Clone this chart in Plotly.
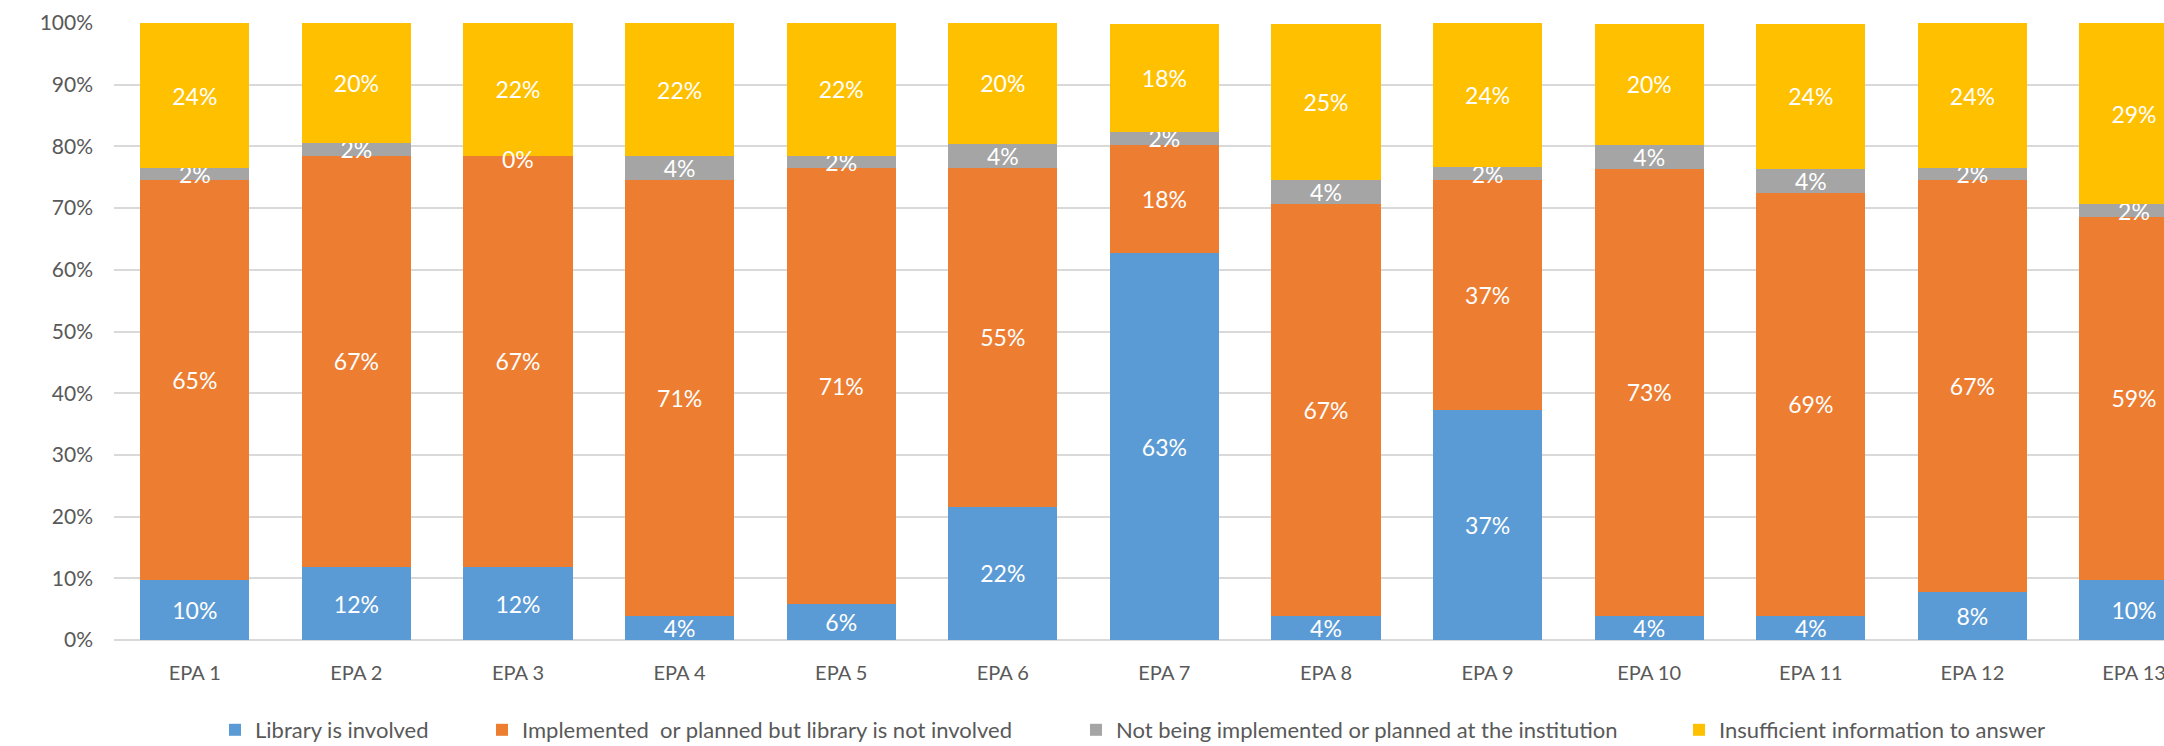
import plotly.graph_objects as go

categories = ["EPA 1", "EPA 2", "EPA 3", "EPA 4", "EPA 5", "EPA 6", "EPA 7",
              "EPA 8", "EPA 9", "EPA 10", "EPA 11", "EPA 12", "EPA 13"]

library_involved = [9.8, 11.8, 11.8, 3.9, 5.9, 21.6, 62.7, 3.9, 37.3, 3.9, 3.9, 7.8, 9.8]
implemented_not_involved = [64.7, 66.7, 66.7, 70.6, 70.6, 54.9, 17.6, 66.7, 37.3, 72.5, 68.6, 66.7, 58.8]
not_implemented = [2.0, 2.0, 0.0, 3.9, 2.0, 3.9, 2.0, 3.9, 2.0, 3.9, 3.9, 2.0, 2.0]
insufficient_info = [23.5, 19.6, 21.6, 21.6, 21.6, 19.6, 17.6, 25.4, 23.5, 19.6, 23.5, 23.5, 29.4]

series = [
    ("Library is involved", library_involved, "#5B9BD5", "legend"),
    ("Implemented  or planned but library is not involved", implemented_not_involved, "#ED7D31", "legend2"),
    ("Not being implemented or planned at the institution", not_implemented, "#A5A5A5", "legend3"),
    ("Insufficient information to answer", insufficient_info, "#FFC000", "legend4"),
]

FONT = "Lato"
LABEL_SIZE = 23
W, H = 2164, 746
ML, MR, MT, MB = 114, 0, 23, 106
plot_w = W - ML - MR
plot_h = H - MT - MB

fig = go.Figure()
for name, vals, color, lg in series:
    fig.add_trace(go.Bar(
        x=categories, y=vals, name=name,
        marker=dict(color=color, line=dict(width=0)),
        texttemplate="%{y:.0f}%", textposition="inside",
        insidetextanchor="middle", textangle=0,
        textfont=dict(family=FONT, size=LABEL_SIZE, color="white"),
        legend=lg, showlegend=True,
    ))

# labels for zero-height segments (plotly does not draw text on empty bars)
base = [0.0] * len(categories)
for name, vals, color, lg in series:
    for i, v in enumerate(vals):
        if v == 0:
            fig.add_annotation(
                x=categories[i], y=base[i], text="%.0f%%" % v, showarrow=False,
                font=dict(family=FONT, size=LABEL_SIZE, color="white"),
                xanchor="center", yanchor="middle", yshift=-3,
            )
        base[i] += v

# legend marker left edges (px)
legend_px = [231, 498, 1092, 1695]
legend_text_w = [200, 540, 560, 380]
legend_y = (H - MB - 730) / plot_h


def leg(px, tw):
    return dict(
        x=(px - ML - 16) / plot_w, y=legend_y, xanchor="left", yanchor="middle",
        orientation="h", bgcolor="rgba(0,0,0,0)",
        entrywidth=tw, entrywidthmode="pixels",
        font=dict(family=FONT, size=22, color="#595959"),
    )

# category spacing: 161.6 px per category
cat_w = 161.6
x_end = plot_w / cat_w - 0.5

fig.update_layout(
    width=W, height=H,
    margin=dict(l=ML, r=MR, t=MT, b=MB, pad=0, autoexpand=False),
    barmode="stack", bargap=0.325,
    plot_bgcolor="white", paper_bgcolor="white",
    font=dict(family=FONT, size=20, color="#595959"),
    uniformtext=dict(minsize=LABEL_SIZE, mode="show"),
    showlegend=True,
    legend=leg(legend_px[0], legend_text_w[0]),
    legend2=leg(legend_px[1], legend_text_w[1]),
    legend3=leg(legend_px[2], legend_text_w[2]),
    legend4=leg(legend_px[3], legend_text_w[3]),
    xaxis=dict(
        range=[-0.5, x_end], showgrid=False, showline=False, zeroline=False,
        ticks="", tickfont=dict(family=FONT, size=20, color="#595959"),
        ticklabelstandoff=19,
    ),
    yaxis=dict(
        range=[0, 100], dtick=10, ticksuffix="%",
        showgrid=True, gridcolor="#D9D9D9", gridwidth=2,
        zeroline=True, zerolinecolor="#D9D9D9", zerolinewidth=2,
        showline=False, ticks="",
        tickfont=dict(family=FONT, size=21, color="#595959"),
        ticklabelstandoff=20,
    ),
)

fig.write_html("out.html")
